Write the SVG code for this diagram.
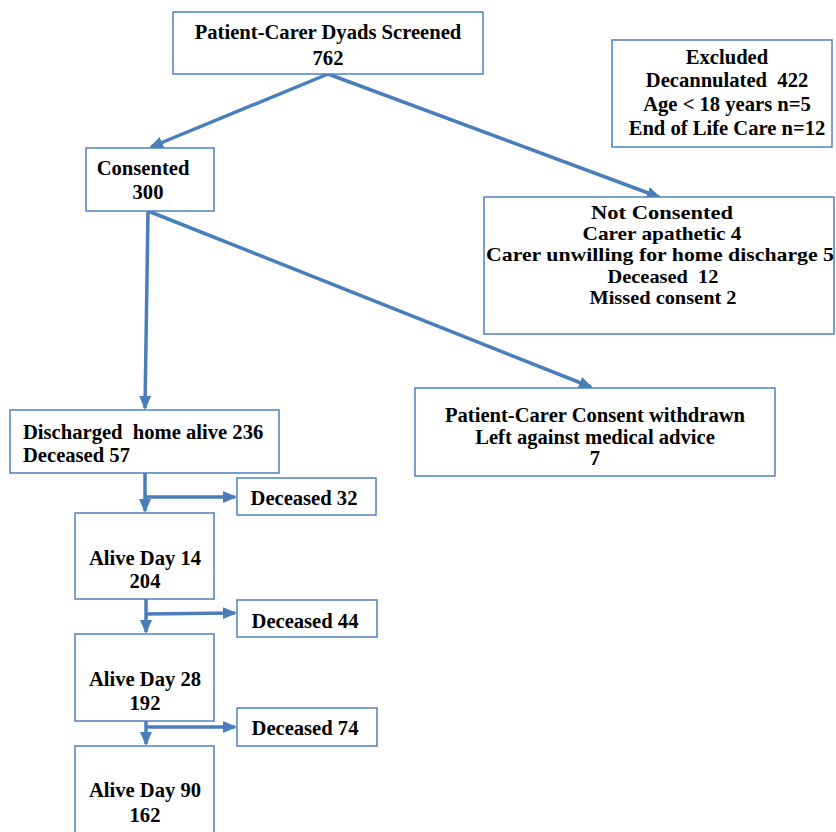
<svg xmlns="http://www.w3.org/2000/svg" width="836" height="832" viewBox="0 0 836 832">
<style>
.box{fill:#fff;stroke:#4f81bd;stroke-width:1.5}
text{font-family:"Liberation Serif","Times New Roman",serif;font-weight:bold;font-size:20.6px;fill:#000;white-space:pre}
.c{text-anchor:middle}
.nc{font-size:19px}
.ln{stroke:#4a7ebb;stroke-width:3.5;fill:none;marker-end:url(#ah)}
</style>
<defs>
<marker id="ah" markerUnits="userSpaceOnUse" markerWidth="14" markerHeight="12" refX="12" refY="6" orient="auto">
<path d="M0,0 L14,6 L0,12 z" fill="#4a7ebb"/>
</marker>
</defs>
<rect width="836" height="832" fill="#fff"/>
<g id="connectors">
<line class="ln" x1="328" y1="74" x2="151" y2="147"/>
<line class="ln" x1="328" y1="74" x2="659" y2="197"/>
<line class="ln" x1="148" y1="211" x2="145" y2="408"/>
<line class="ln" x1="148" y1="211" x2="591" y2="387"/>
<line class="ln" x1="145" y1="473" x2="145" y2="511"/>
<line class="ln" x1="145" y1="497" x2="235" y2="497"/>
<line class="ln" x1="146" y1="599" x2="146" y2="632"/>
<line class="ln" x1="146" y1="614" x2="235" y2="613"/>
<line class="ln" x1="146" y1="721" x2="146" y2="744"/>
<line class="ln" x1="146" y1="727" x2="235" y2="727"/>
</g>
<g id="screened">
<rect class="box" x="173" y="12" width="310" height="62"/>
<text class="c" x="328" y="39">Patient-Carer Dyads Screened</text>
<text class="c" x="328" y="65">762</text>
</g>
<g id="excluded">
<rect class="box" x="612" y="40" width="220" height="107"/>
<text class="c" x="727" y="64">Excluded</text>
<text class="c" x="727" y="87">Decannulated  422</text>
<text class="c" x="727" y="111">Age &lt; 18 years n=5</text>
<text class="c" x="727" y="135">End of Life Care n=12</text>
</g>
<g id="consented">
<rect class="box" x="86" y="148" width="128" height="63"/>
<text class="c" x="143" y="175">Consented</text>
<text class="c" x="148" y="199">300</text>
</g>
<g id="not-consented">
<rect class="box" x="484" y="197" width="350" height="137"/>
<text class="c nc" x="662" y="219" textLength="142" lengthAdjust="spacingAndGlyphs">Not Consented</text>
<text class="c nc" x="662" y="240" textLength="159" lengthAdjust="spacingAndGlyphs">Carer apathetic 4</text>
<text class="c nc" x="660" y="261" textLength="348" lengthAdjust="spacingAndGlyphs">Carer unwilling for home discharge 5</text>
<text class="c nc" x="663" y="283" textLength="111" lengthAdjust="spacingAndGlyphs">Deceased  12</text>
<text class="c nc" x="663" y="304" textLength="147" lengthAdjust="spacingAndGlyphs">Missed consent 2</text>
</g>
<g id="withdrawn">
<rect class="box" x="415" y="388" width="360" height="88"/>
<text class="c" x="595" y="422">Patient-Carer Consent withdrawn</text>
<text class="c" x="595" y="444">Left against medical advice</text>
<text class="c" x="595" y="465">7</text>
</g>
<g id="discharged">
<rect class="box" x="10" y="410" width="269" height="63"/>
<text x="23" y="439">Discharged  home alive 236</text>
<text x="23" y="462">Deceased 57</text>
</g>
<g id="deceased32">
<rect class="box" x="237" y="478" width="139" height="37"/>
<text class="c" x="304" y="505">Deceased 32</text>
</g>
<g id="alive14">
<rect class="box" x="75" y="513" width="139" height="86"/>
<text class="c" x="145" y="565">Alive Day 14</text>
<text class="c" x="145" y="588">204</text>
</g>
<g id="deceased44">
<rect class="box" x="237" y="600" width="140" height="37"/>
<text class="c" x="305" y="628">Deceased 44</text>
</g>
<g id="alive28">
<rect class="box" x="75" y="634" width="139" height="87"/>
<text class="c" x="145" y="686">Alive Day 28</text>
<text class="c" x="145" y="710">192</text>
</g>
<g id="deceased74">
<rect class="box" x="237" y="708" width="140" height="38"/>
<text class="c" x="305" y="735">Deceased 74</text>
</g>
<g id="alive90">
<rect class="box" x="75" y="746" width="139" height="100"/>
<text class="c" x="145" y="797">Alive Day 90</text>
<text class="c" x="145" y="822">162</text>
</g>
</svg>
